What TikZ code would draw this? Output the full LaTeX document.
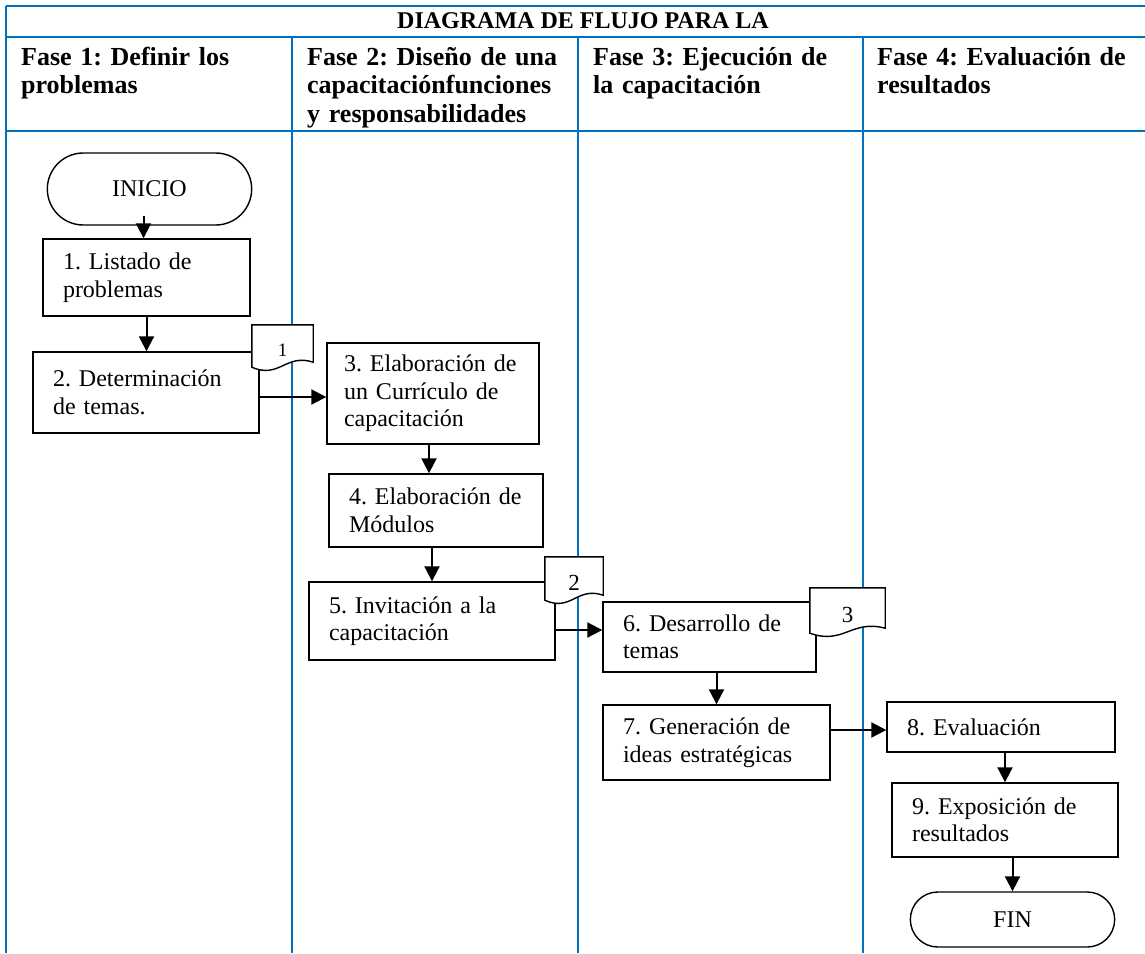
\documentclass[tikz,border=0pt]{standalone}
\usepackage{fontspec}
\setmainfont{Liberation Serif}
\usetikzlibrary{arrows.meta,calc,shapes.misc}
\definecolor{tablaazul}{RGB}{0,112,192}
\frenchspacing

\begin{document}
\begin{tikzpicture}[x=1pt,y=-1pt,
		linea/.style={draw=tablaazul, line width=2pt},
		titulo/.style={inner sep=0pt, font=\bfseries\fontsize{24}{27}\selectfont},
		fase/.style={anchor=base west, align=left, text width=268pt, inner sep=0pt, font=\bfseries\fontsize{26}{28.5}\selectfont},
		caja/.style={draw, line width=1.4pt, fill=white, align=left, inner xsep=20pt, inner ysep=0pt, font=\fontsize{24}{27.5}\selectfont},
		terminal/.style={draw, line width=1.4pt, fill=white, rounded rectangle, minimum width=211pt, font=\fontsize{24}{27}\selectfont},
		docu/.style={inner sep=0pt},
		flecha/.style={line width=2pt, -{Triangle[length=15pt,width=15pt]}}
	]
	\useasboundingbox (0,0) rectangle (1145,953);

	% tabla de fondo
	\draw[linea] (6,5.7) -- (1145,5.7);
	\draw[linea] (6,36.7) -- (1145,36.7);
	\draw[linea] (6,130.7) -- (1145,130.7);
	\draw[linea] (6,5.7) -- (6,953);
	\foreach \x in {292,578,863}
		\draw[linea] (\x,36.7) -- (\x,953);

	\node[titulo] (tit) at (583,21) {DIAGRAMA DE FLUJO PARA LA};
	\node[fase] (f1) at (21,65) {Fase 1: Definir los\\problemas};
	\node[fase] (f2) at (307,65) {Fase 2: Diseño de una\\capacitaciónfunciones\\y responsabilidades};
	\node[fase] (f3) at (593,65) {Fase 3: Ejecución de\\la capacitación};
	\node[fase] (f4) at (877,65) {Fase 4: Evaluación de\\resultados};

	% pasos
	\node[terminal, minimum height=72pt] (ini) at (149.5,189) {INICIO};
	\node[caja, minimum height=77pt, text width=167pt] (b1) at (146.5,277.5) {1. Listado de\\problemas};
	\node[caja, minimum height=81pt, text width=186pt] (b2) at (146,392.5) {2. Determinación\\de temas.};
	\node[caja, minimum height=101pt, inner xsep=17pt, text width=178pt] (b3) at (433,393.5) {3. Elaboración de\\un Currículo de\\capacitación};
	\node[caja, minimum height=73pt, text width=174pt] (b4) at (436,510.5) {4. Elaboración de\\Módulos};
	\node[caja, minimum height=78pt, text width=206pt] (b5) at (432,621) {5. Invitación a la\\capacitación};
	\node[caja, minimum height=70pt, text width=173pt] (b6) at (709.5,637) {6. Desarrollo de\\temas};
	\node[caja, minimum height=75pt, text width=187pt] (b7) at (716.5,742.5) {7. Generación de\\ideas estratégicas};
	\node[caja, minimum height=50pt, text width=188pt] (b8) at (1001,727) {8. Evaluación};
	\node[caja, minimum height=74pt, text width=186pt] (b9) at (1005,820) {9. Exposición de\\resultados};
	\node[terminal, minimum height=55pt] (fin) at (1012.5,919.5) {FIN};

	% documentos
	\node[docu, minimum width=61pt, minimum height=42pt] (d1) at (282.5,346) {};
	\node[docu, minimum width=58pt, minimum height=43pt] (d2) at (574,578.5) {};
	\node[docu, minimum width=75pt, minimum height=45pt] (d3) at (847.5,610.5) {};
	\foreach \d/\n/\s in {d1/1/19,d2/2/23,d3/3/23}{
		\filldraw[fill=white, line width=1.4pt] (\d.south west) -- (\d.north west) -- (\d.north east)
			-- ($(\d.south east)+(0,-5)$)
			.. controls ($(\d.south west)!0.55!(\d.south east)+(0,-14)$) and ($(\d.south west)!0.45!(\d.south east)+(0,12)$) .. (\d.south west) -- cycle;
		\node[inner sep=0pt, font=\fontsize{\s}{\s}\selectfont] (\d-t) at ($(\d)+(0,4)$) {\n};
	}

	% flechas
	\draw[flecha] ($(ini.south)+(-6,-10)$) -- ($(ini.south |- b1.north)+(-6,0)$);
	\draw[flecha] (b1.south) -- (b1.south |- b2.north);
	\draw[flecha] ($(b3.west -| b2.east)+(0,3.5)$) -- ($(b3.west)+(0,3.5)$);
	\draw[flecha] ($(b3.south)+(-4,0)$) -- ($(b3.south |- b4.north)+(-4,0)$);
	\draw[flecha] (b5.north |- b4.south) -- (b5.north);
	\draw[flecha] ($(b6.west -| b5.east)+(0,-7)$) -- ($(b6.west)+(0,-7)$);
	\draw[flecha] (b7.north |- b6.south) -- (b7.north);
	\draw[flecha] ($(b8.west -| b7.east)+(0,3)$) -- ($(b8.west)+(0,3)$);
	\draw[flecha] (b9.north |- b8.south) -- (b9.north);
	\draw[flecha] (fin.north |- b9.south) -- (fin.north);
\end{tikzpicture}
\end{document}
